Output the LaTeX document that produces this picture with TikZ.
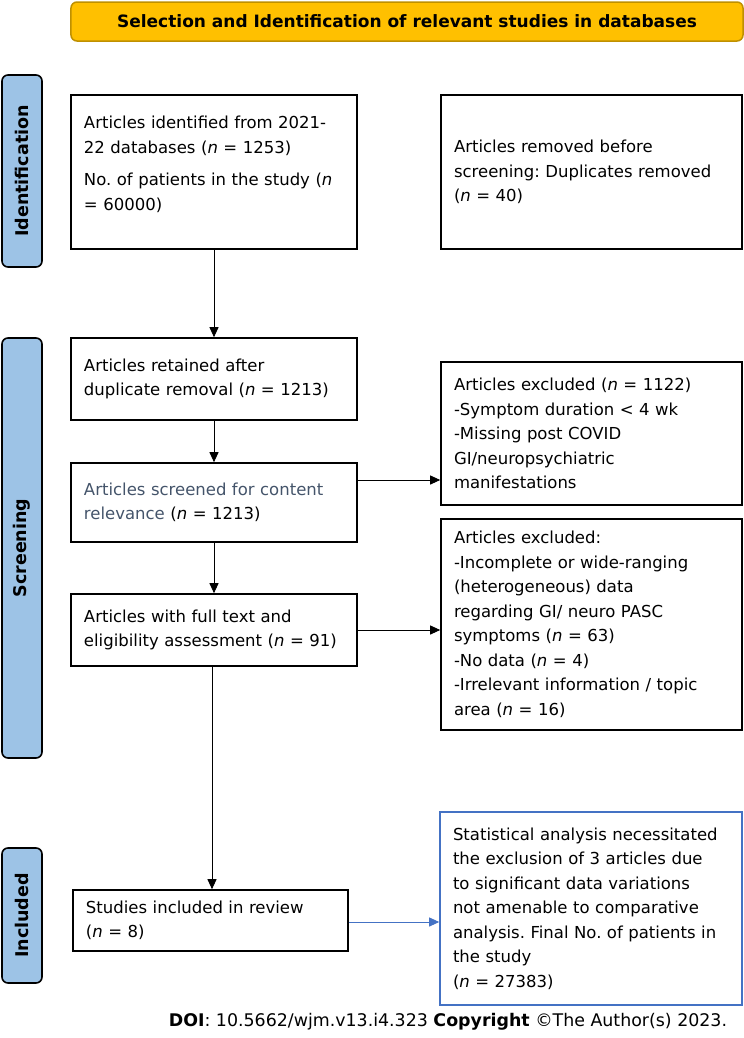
\documentclass[tikz,border=0pt]{standalone}
\usepackage{fontspec}
\setmainfont{DejaVu Sans}
\usepackage{tikz}
\usetikzlibrary{positioning,arrows.meta}
\definecolor{titlegold}{HTML}{FFC000}
\definecolor{titleedge}{HTML}{BF9000}
\definecolor{stageblue}{HTML}{9DC3E6}
\definecolor{linkblue}{HTML}{4472C4}
\definecolor{slate}{HTML}{44546A}
\frenchspacing

\begin{document}
\begin{tikzpicture}[x=1bp,y=-1bp,
    box/.style={draw,line width=1.6bp,align=left,inner xsep=13bp,font=\fontsize{16.5bp}{24.5bp}\selectfont},
    stage/.style={draw,line width=1.6bp,fill=stageblue,rounded corners=6bp,rotate=90,minimum height=40bp,font=\fontsize{17.5bp}{20bp}\selectfont\bfseries},
    arr/.style={-{Triangle[length=10bp,width=9bp]},line width=0.9bp}]
\useasboundingbox (0,0) rectangle (744,1038);

\node (head) at (407,21.5) [draw=titleedge,line width=1.5bp,fill=titlegold,rounded corners=6bp,
    minimum width=672bp,minimum height=39bp,font=\fontsize{17bp}{20bp}\selectfont\bfseries]
    {Selection and Identification of relevant studies in databases};

% stages
\node (sid) at (22,171) [stage,minimum width=192bp] {Identification};
\node (sscr) at (22,548) [stage,minimum width=420bp] {Screening};
\node (sinc) at (22,915.5) [stage,minimum width=135bp] {Included};

% left column
\node (ident) at (214,172) [box,text width=260bp,minimum height=154bp]
    {Articles identified from 2021-\\22 databases (\textit{n} = 1253)\\[8bp]
     No. of patients in the study (\textit{n}\\= 60000)\\[-7bp]\rule{0pt}{0pt}};
\node (retained) at (214,379) [box,text width=260bp,minimum height=82bp]
    {Articles retained after\\duplicate removal (\textit{n} = 1213)};
\node (screened) at (214,502.5) [box,text width=260bp,minimum height=79bp]
    {\textcolor{slate}{Articles screened for content}\\\textcolor{slate}{relevance} (\textit{n} = 1213)};
\node (fulltext) at (214,630) [box,text width=260bp,minimum height=72bp]
    {Articles with full text and\\eligibility assessment (\textit{n} = 91)};
\node (incl) at (210.5,920.5) [box,text width=249bp,minimum height=61bp]
    {Studies included in review\\(\textit{n} = 8)};

% right column
\node (dupl) at (591.5,172) [box,text width=275bp,minimum height=154bp]
    {Articles removed before\\screening: Duplicates removed\\(\textit{n} = 40)};
\node (excla) at (591.5,433.5) [box,text width=275bp,minimum height=143bp]
    {Articles excluded (\textit{n} = 1122)\\-Symptom duration < 4 wk\\-Missing post COVID\\GI/neuropsychiatric\\manifestations};
\node (exclb) at (591.5,624.5) [box,text width=275bp,minimum height=211bp]
    {Articles excluded:\\-Incomplete or wide-ranging\\(heterogeneous) data\\regarding GI/ neuro PASC\\symptoms (\textit{n} = 63)\\-No data (\textit{n} = 4)\\-Irrelevant information / topic\\area (\textit{n} = 16)};
\node (final) at (591,908.5) [box,draw=linkblue,text width=276bp,minimum height=193bp]
    {Statistical analysis necessitated\\the exclusion of 3 articles due\\to significant data variations\\not amenable to comparative\\analysis. Final No. of patients in\\the study\\(\textit{n} = 27383)};

% arrows
\draw[arr] (ident) -- (retained);
\draw[arr] (retained) -- (screened);
\draw[arr] (screened) -- (fulltext);
\draw[arr] ([xshift=-2bp]fulltext.south) -- ([xshift=-2bp]fulltext.south |- incl.north);
\draw[arr] ([yshift=22.5bp]screened.east) coordinate (ea) -- (excla.west |- ea);
\draw[arr] (fulltext.east) -- (exclb.west |- fulltext.east);
\draw[arr,draw=linkblue,fill=linkblue] ([yshift=-1.5bp]incl.east) coordinate (eb) -- (final.west |- eb);

\node (doi) at (448,1022) [font=\fontsize{17.4bp}{20bp}\selectfont]
    {\textbf{DOI}: 10.5662/wjm.v13.i4.323 \textbf{Copyright} ©The Author(s) 2023.};
\end{tikzpicture}
\end{document}
